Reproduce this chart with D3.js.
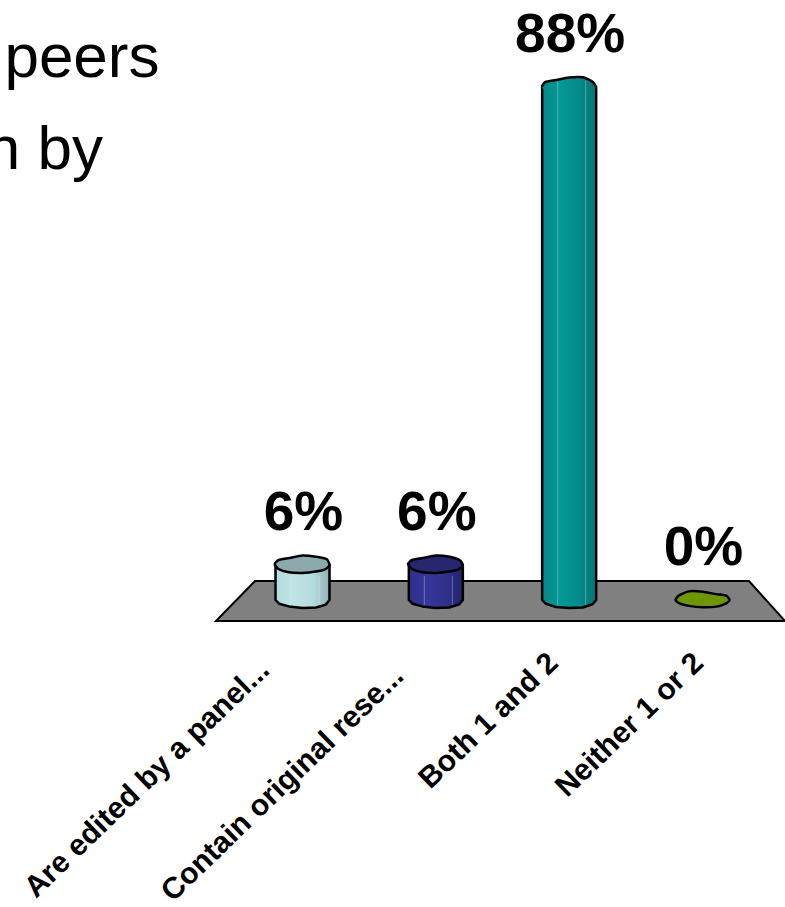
<!DOCTYPE html>
<html>
<head>
<title>Poll results</title>
<script src="https://d3js.org/d3.v7.min.js"></script>
<style>
  html, body { margin: 0; padding: 0; background: #fff; overflow: hidden; }
  text { font-family: "Liberation Sans", Arial, sans-serif; fill: #000; }
</style>
</head>
<body>
<script>
var categories = ["Are edited by a panel...", "Contain original rese...", "Both 1 and 2", "Neither 1 or 2"];
var values = [6, 6, 88, 0];
var valueLabels = ["6%", "6%", "88%", "0%"];
var titleLines = ["peers", "n by"];

var w = 785, h = 907;
var rx = 27, ry = 8; // cylinder footprint

// colours: left, light, right, top of each cylinder
var colours = [
  ["#b4dcde", "#bfe3e5", "#8fb0b2", "#8caaac"],
  ["#2f2f8c", "#363699", "#24246e", "#272770"],
  ["#048a8a", "#049896", "#057575", "#049090"],
  ["#6f9600", "#6f9600", "#6f9600", "#6f9600"]
];

// little bumps round the top edge, so the cylinders look hand drawn like the original
var bumps = [
  [0, -1, -1, 0, 1, 2, 2, 1, 0, 1, 1, 2],
  [0, -1, -1, 0, 1, 1, 2, 1, 0, 1, 1, 1],
  [0, -1, 0, 0, 1, 1, 1, 1, 0, 1, 2, 1],
  [0, 1, 2, 1, 0, -1, 0, 1, 2, 1, 0, 1]
];

// the slanted labels do not sit the same way under each bar
var labelShift = [[-32, 672], [-31, 678], [-10, 665], [2, 665]];

var svg = d3.select("body").append("svg").attr("width", w).attr("height", h).style("display", "block");

var x = d3.scalePoint().domain(categories).range([302.5, 702.5]);
var y = d3.scaleLinear().domain([0, 88]).range([600, 87]);

// title fragment cut off by the slide edge
svg.selectAll(".title").data(titleLines).enter().append("text")
  .attr("class", "title")
  .attr("text-anchor", "end")
  .attr("x", function(d, i) { return i == 0 ? 159.5 : 103; })
  .attr("y", function(d, i) { return 77 + i * 92; })
  .attr("font-size", "62px")
  .text(function(d) { return d; });

// floor
var floorTop = y(0) - 19, floorBottom = y(0) + 21;
svg.append("path")
  .attr("d", "M216," + floorBottom + "L255," + floorTop + "L749," + floorTop + "L785," + floorBottom + "Z")
  .attr("fill", "#808080")
  .attr("stroke", "#000")
  .attr("stroke-width", 2);

var defs = svg.append("defs");
colours.forEach(function(c, i) {
  var g = defs.append("linearGradient").attr("id", "grad" + i);
  g.append("stop").attr("offset", "0%").attr("stop-color", c[0]);
  g.append("stop").attr("offset", "35%").attr("stop-color", c[1]);
  g.append("stop").attr("offset", "70%").attr("stop-color", c[0]);
  g.append("stop").attr("offset", "100%").attr("stop-color", c[2]);
});

var ring = d3.line().curve(d3.curveCardinalClosed.tension(0.4));
var arc = d3.line().curve(d3.curveCardinal.tension(0.4));

function topRing(i, cx, cy, squash) {
  return bumps[i].map(function(b, k) {
    var a = k / bumps[i].length * 2 * Math.PI;
    return [cx + (rx + b * 0.4) * Math.cos(a), cy + (ry * squash + b) * Math.sin(a) - b * 0.5];
  });
}

// body: left side down, round the front, right side up
function body(i, cx, cy, base) {
  var pts = [[cx - rx, cy]];
  d3.range(0, 7).forEach(function(k) {
    var a = Math.PI - k / 6 * Math.PI;
    var b = bumps[i][k] * 0.6;
    pts.push([cx + rx * Math.cos(a), base + (ry + b) * Math.sin(a)]);
  });
  pts.push([cx + rx, cy]);
  return d3.line()(pts) + "Z";
}

var bars = svg.selectAll(".bar").data(values).enter().append("g").attr("class", "bar");

bars.each(function(d, i) {
  var g = d3.select(this);
  var cx = x(categories[i]);
  var tall = d > 50; // seen from below, no front rim on the top face

  if (d > 0) {
    g.append("path")
      .attr("d", body(i, cx, y(d), y(0)))
      .attr("fill", "url(#grad" + i + ")")
      .attr("stroke", "#000")
      .attr("stroke-width", 2.5)
      .attr("stroke-linejoin", "round");
  }

  var pts = topRing(i, cx, y(d), d > 0 ? 1 : 0.85);
  g.append("path")
    .attr("d", ring(pts))
    .attr("fill", tall ? "url(#grad" + i + ")" : colours[i][3])
    .attr("stroke", tall ? "none" : "#000")
    .attr("stroke-width", 2.5);
  if (tall) {
    // back half only
    g.append("path")
      .attr("d", arc(pts.slice(6).concat([pts[0]])))
      .attr("fill", "none")
      .attr("stroke", "#000")
      .attr("stroke-width", 2.5);
  }

  // thin pale streaks down the sides
  if (d > 0) {
    [-11.5, 16.5].forEach(function(off) {
      g.append("line")
        .attr("x1", cx + off)
        .attr("x2", cx + off)
        .attr("y1", tall ? y(d) - 6 : y(d) + 11)
        .attr("y2", y(0) + 5)
        .attr("stroke", "#fff")
        .attr("stroke-opacity", 0.3)
        .attr("stroke-width", 1);
    });
  }
});

// value labels
svg.selectAll(".val").data(values).enter().append("text")
  .attr("class", "val")
  .attr("text-anchor", "middle")
  .attr("x", function(d, i) { return x(categories[i]) + 1; })
  .attr("y", function(d) { return y(d) - 35; })
  .attr("font-size", "55px")
  .attr("font-weight", "bold")
  .text(function(d, i) { return valueLabels[i]; });

// category axis, labels on the slant
var axis = svg.append("g")
  .call(d3.axisBottom(x).tickSize(0));
axis.select(".domain").remove();
axis.selectAll("text")
  .attr("font-size", "30px")
  .attr("font-weight", "bold")
  .attr("font-family", "Liberation Sans")
  .attr("text-anchor", "end")
  .attr("dy", 0)
  .attr("y", 0)
  .attr("transform", function(d, i) {
    return "translate(" + labelShift[i][0] + "," + labelShift[i][1] + ") rotate(-44)";
  });
</script>
</body>
</html>
